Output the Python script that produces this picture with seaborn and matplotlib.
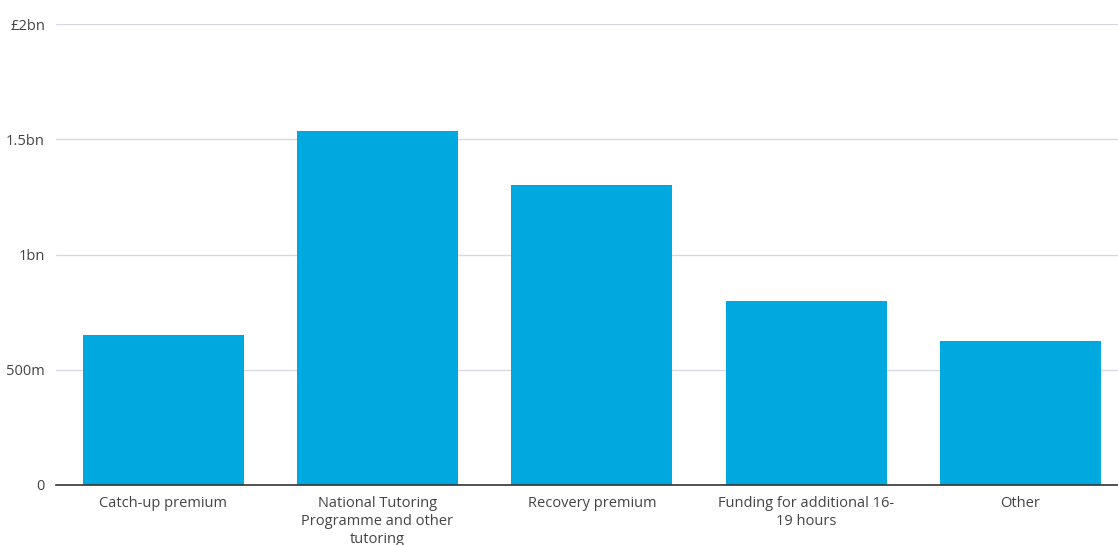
import matplotlib
matplotlib.use("Agg")
import matplotlib.pyplot as plt
import pandas as pd
import seaborn as sns

categories = [
    "Catch-up premium",
    "National Tutoring\nProgramme and other\ntutoring",
    "Recovery premium",
    "Funding for additional 16-\n19 hours",
    "Other",
]
funding_bn = [0.65, 1.535, 1.30, 0.80, 0.625]

tick_values = [0, 0.5, 1.0, 1.5, 2.0]
tick_labels = ["0", "500m", "1bn", "1.5bn", "£2bn"]

df = pd.DataFrame({"category": categories, "funding": funding_bn})

sns.set_style("white")
plt.rcParams["font.family"] = ["Open Sans", "DejaVu Sans"]

fig = plt.figure(figsize=(11.18, 5.45), dpi=100)
ax = fig.add_axes([56 / 1118, 1 - 485 / 545, 1 - 56 / 1118, (485 - 24) / 545])

sns.barplot(data=df, x="category", y="funding", color="#00a8e0",
            saturation=1, width=0.75, linewidth=0, ax=ax, zorder=3)

ax.set_ylim(0, 2.0)
ax.set_xlim(-0.5, 4.455)
ax.set_yticks(tick_values)
ax.set_yticklabels(tick_labels)
ax.yaxis.grid(True, color="#d8d7e5", linewidth=1, zorder=0)
ax.set_axisbelow(True)

for side in ["top", "right", "left"]:
    ax.spines[side].set_visible(False)
ax.spines["bottom"].set_color("#333333")
ax.spines["bottom"].set_linewidth(1.2)
ax.spines["bottom"].set_zorder(4)

ax.tick_params(axis="y", length=0, pad=8, labelsize=10.5, labelcolor="#444444")
ax.tick_params(axis="x", length=0, pad=8, labelsize=10.5, labelcolor="#444444")
for lbl in ax.get_xticklabels():
    lbl.set_linespacing(1.25)

ax.set_xlabel("")
ax.set_ylabel("")

fig.savefig("out.png", dpi=100)
